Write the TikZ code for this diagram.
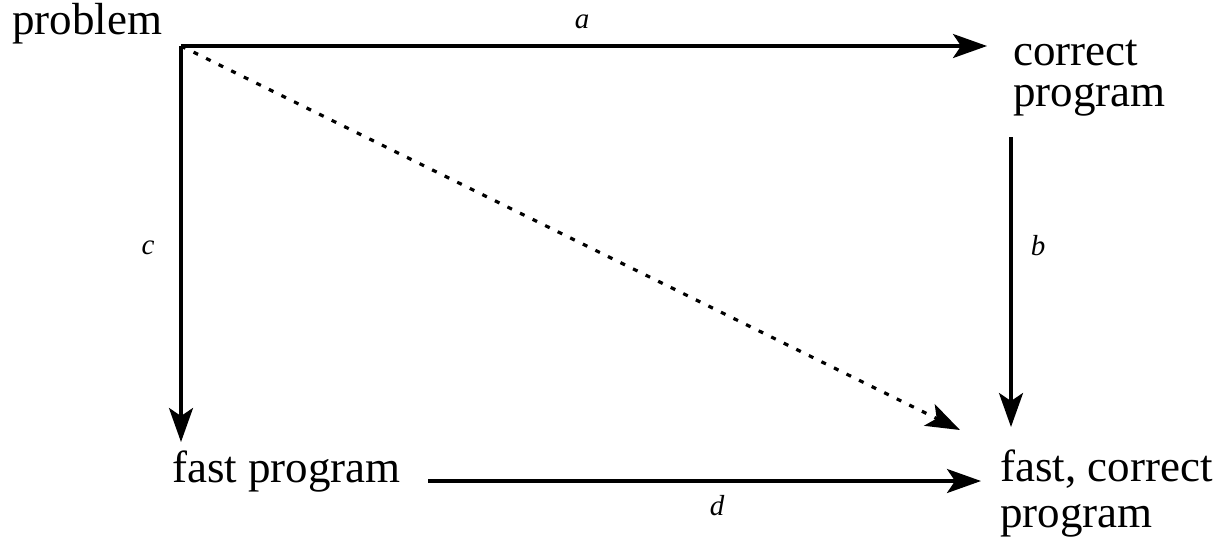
\documentclass[tikz,border=0pt]{standalone}
\usepackage{fontspec}
\setmainfont{Liberation Serif}
\usetikzlibrary{arrows.meta}
\begin{document}
\begin{tikzpicture}[x=1pt,y=-1pt,
  txt/.style={anchor=base west,inner sep=0pt,align=left,font=\fontsize{45}{41}\selectfont},
  lbl/.style={anchor=base,inner sep=0pt,font=\fontsize{29}{30}\selectfont\itshape},
  arr/.style={line width=3.2pt,-{Stealth[length=34pt,width=24pt,inset=8pt]}},
  dotted arr/.style={arr,dash pattern=on 5pt off 9pt}]
\useasboundingbox (0,0) rectangle (1228,539);
\node[txt] (problem) at (12,34) {problem};
\node[txt] (correct) at (1013,106) {correct\\program};
\node[txt] (fast) at (172,482) {fast program};
\node[txt,font=\fontsize{45}{46}\selectfont] (fastcorrect) at (1000,527) {fast, correct\\program};
\coordinate (o) at (181,46);
\coordinate (atip) at (987,46);
\coordinate (ctip) at (181,442);
\coordinate (bstart) at (1011,137);
\coordinate (btip) at (1011,427);
\coordinate (dstart) at (428,481);
\coordinate (dtip) at (981,481);
\coordinate (etip) at (960,430);
\draw[arr] (o) -- (atip);
\draw[arr] (o) -- (ctip);
\draw[arr] (bstart) -- (btip);
\draw[arr] (dstart) -- (dtip);
\draw[dotted arr] (o) -- (etip);
\node[lbl] (la) at (582,28) {a};
\node[lbl] (lc) at (148,254) {c};
\node[lbl] (lb) at (1038,255) {b};
\node[lbl] (ld) at (717,515) {d};
\end{tikzpicture}
\end{document}
